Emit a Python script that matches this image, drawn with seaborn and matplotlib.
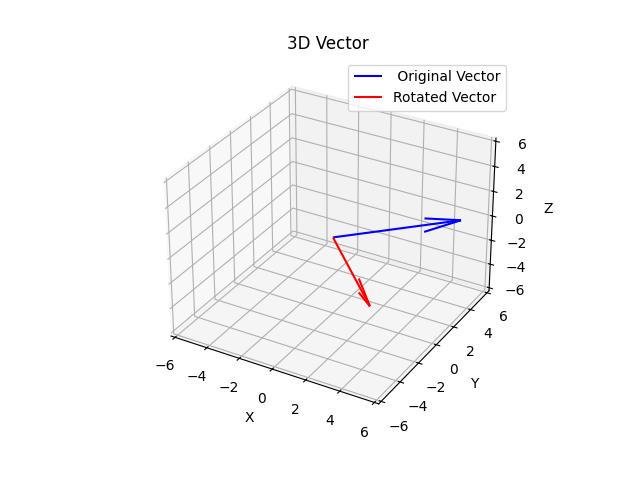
import matplotlib
matplotlib.use("Agg")
import matplotlib.pyplot as plt
import seaborn as sns
import numpy as np

sns.reset_orig()
plt.rcParams['font.family'] = ['DejaVu Sans']
plt.rcParams['axes3d.automargin'] = True

origin = [0, 0, 0]
original_vec = [5, 5, 0]
rotated_vec = [5, -5, 0]
labels = [' Original Vector', 'Rotated Vector']
colors = ['blue', 'red']
axis_limits = [-6, 6]

fig = plt.figure(figsize=(6.4, 4.8), dpi=100)
ax = fig.add_subplot(111, projection='3d')
for vec, lab, col in zip([original_vec, rotated_vec], labels, colors):
    ax.quiver(origin[0], origin[1], origin[2], vec[0], vec[1], vec[2], color=col, label=lab)
ax.set_xlim(axis_limits)
ax.set_ylim(axis_limits)
ax.set_zlim(axis_limits)
ax.set_xlabel('X')
ax.set_ylabel('Y')
ax.set_zlabel('Z')
ax.set_title('3D Vector')
ax.legend()
fig.savefig('out.png')
